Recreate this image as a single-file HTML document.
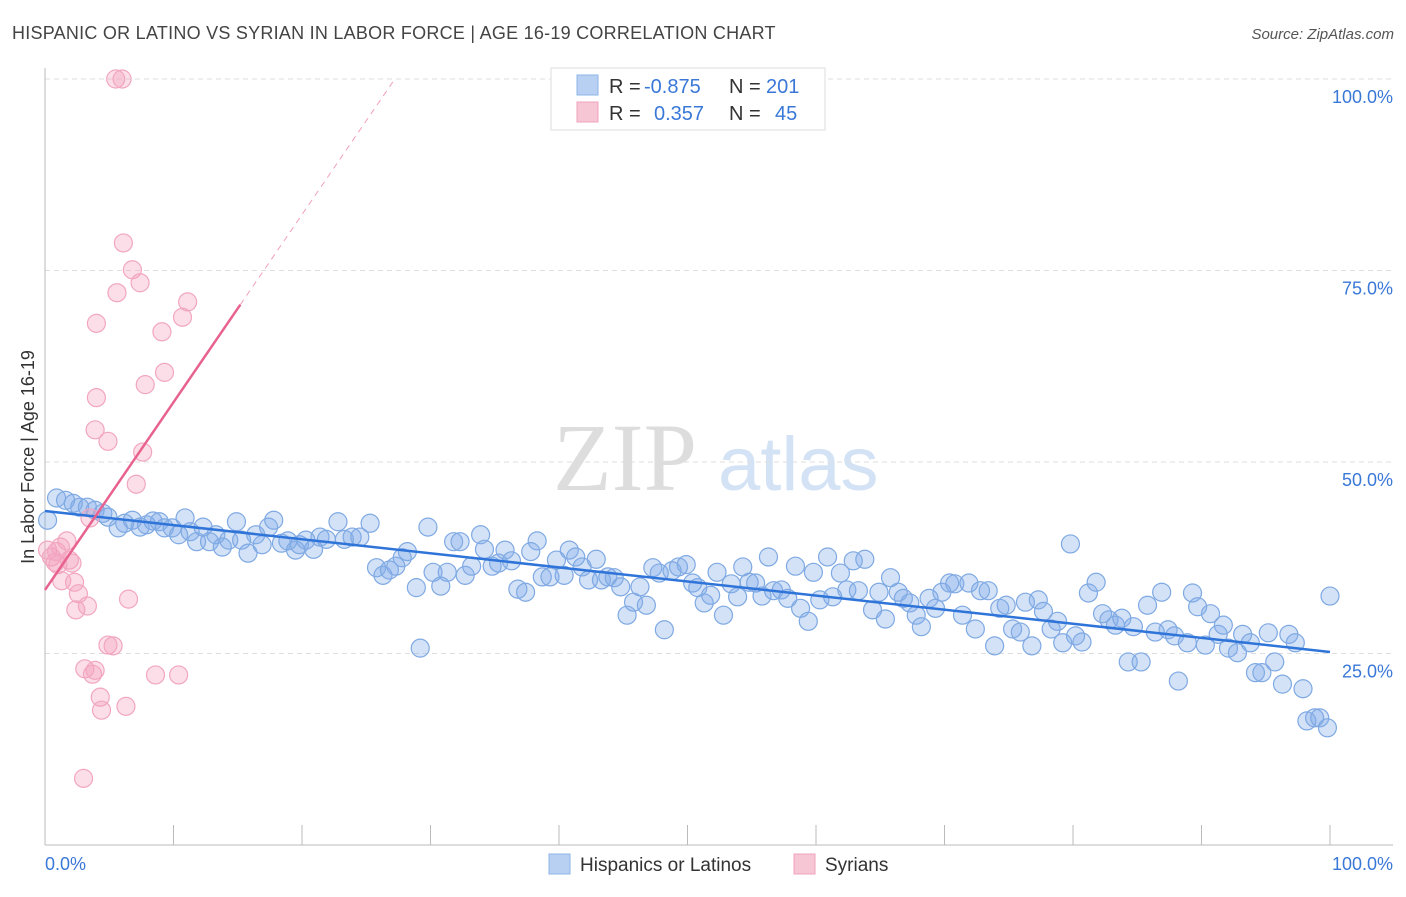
<!DOCTYPE html>
<html><head><meta charset="utf-8"><style>
body{margin:0;background:#fff;font-family:"Liberation Sans",sans-serif;}
svg text{font-family:"Liberation Sans",sans-serif;}
</style></head><body>
<svg id="chart" width="1406" height="892" xmlns="http://www.w3.org/2000/svg">
<text x="12" y="39" font-size="18" fill="#444" letter-spacing="0.25">HISPANIC OR LATINO VS SYRIAN IN LABOR FORCE | AGE 16-19 CORRELATION CHART</text>
<text x="1394" y="39" font-size="15" fill="#555" font-style="italic" text-anchor="end">Source: ZipAtlas.com</text>
<g>
<text x="553" y="490" font-size="96" fill="#ddd" style="font-family:'Liberation Serif',serif">ZIP</text>
<text x="718" y="490" font-size="76" fill="#d3e2f5">atlas</text>
</g>
<g id="grid"></g>
<g id="marks"></g>
<g>
<rect x="551" y="68" width="274" height="62" fill="#fff" stroke="#ddd"/>
<rect x="577" y="75" width="21" height="20" fill="#b8d1f3" stroke="#8fb4e8"/>
<rect x="577" y="102" width="21" height="20" fill="#f7c6d5" stroke="#f0a3bc"/>
<text x="609" y="93" font-size="20" fill="#333">R =</text>
<text x="644" y="93" font-size="20" fill="#3a78d8">-0.875</text>
<text x="729" y="93" font-size="20" fill="#333">N =</text>
<text x="766" y="93" font-size="20" fill="#3a78d8">201</text>
<text x="609" y="120" font-size="20" fill="#333">R =</text>
<text x="654" y="120" font-size="20" fill="#3a78d8">0.357</text>
<text x="729" y="120" font-size="20" fill="#333">N =</text>
<text x="775" y="120" font-size="20" fill="#3a78d8">45</text>
</g>
<g>
<rect x="549" y="854" width="21" height="20" fill="#b8d1f3" stroke="#8fb4e8"/>
<text x="580" y="871" font-size="19" fill="#333">Hispanics or Latinos</text>
<rect x="794" y="854" width="21" height="20" fill="#f7c6d5" stroke="#f0a3bc"/>
<text x="825" y="871" font-size="19" fill="#333">Syrians</text>
</g>
<text transform="translate(34,457) rotate(-90)" font-size="18" fill="#333" text-anchor="middle">In Labor Force | Age 16-19</text>
<text x="45" y="870" font-size="18" fill="#3a78d8">0.0%</text>
<text x="1393" y="870" font-size="18" fill="#3a78d8" text-anchor="end">100.0%</text>
</svg>
<script>
const blueX=[0.2,0.9,1.6,2.2,2.7,3.3,3.9,4.5,4.9,5.7,6.2,6.8,7.4,7.9,8.4,8.9,9.3,9.9,10.4,10.9,11.3,11.8,12.3,12.8,13.3,13.8,14.3,14.9,15.3,15.8,16.4,16.9,17.4,17.8,18.4,18.9,19.5,19.8,20.3,20.9,21.4,21.9,22.8,23.3,23.9,24.5,25.3,25.8,26.3,26.8,27.3,27.8,28.2,28.9,29.2,29.8,30.2,30.8,31.3,31.8,32.3,32.7,33.2,33.9,34.2,34.8,35.3,35.8,36.3,36.8,37.4,37.8,38.3,38.7,39.3,39.8,40.4,40.8,41.3,41.8,42.3,42.9,43.3,43.8,44.3,44.8,45.3,45.8,46.3,46.8,47.3,47.8,48.2,48.8,49.3,49.9,50.4,50.8,51.3,51.8,52.3,52.8,53.4,53.9,54.3,54.8,55.3,55.8,56.3,56.7,57.3,57.8,58.4,58.8,59.4,59.8,60.3,60.9,61.3,61.9,62.4,62.9,63.3,63.8,64.4,64.9,65.4,65.8,66.4,66.8,67.3,67.8,68.2,68.8,69.3,69.8,70.4,70.8,71.4,71.9,72.4,72.8,73.4,73.9,74.3,74.8,75.3,75.9,76.3,76.8,77.3,77.7,78.3,78.8,79.2,79.8,80.2,80.7,81.2,81.8,82.3,82.8,83.3,83.8,84.3,84.7,85.3,85.8,86.4,86.9,87.4,87.9,88.2,88.9,89.3,89.7,90.3,90.7,91.3,91.7,92.1,92.8,93.2,93.8,94.2,94.7,95.2,95.7,96.3,96.8,97.3,97.9,98.2,98.8,99.2,99.8,100];
const blueY=[42.4,45.3,45.0,44.6,44.1,44.1,43.7,43.3,42.8,41.4,42.0,42.4,41.5,41.8,42.3,42.2,41.4,41.4,40.5,42.7,40.9,39.6,41.5,39.6,40.5,38.9,39.8,42.2,39.8,38.1,40.5,39.2,41.5,42.4,39.4,39.7,38.5,39.2,39.8,38.6,40.2,39.9,42.2,39.9,40.2,40.2,42.0,36.2,35.2,35.9,36.4,37.5,38.3,33.6,25.7,41.5,35.6,33.8,35.6,39.6,39.6,35.2,36.4,40.5,38.6,36.4,36.8,38.5,37.1,33.4,33.0,38.3,39.7,35.0,35.0,37.2,35.2,38.5,37.6,36.3,34.6,37.3,34.6,35.0,34.9,33.7,30.0,31.7,33.7,31.3,36.2,35.5,28.1,35.8,36.3,36.6,34.2,33.6,31.6,32.6,35.6,30.0,34.1,32.4,36.3,34.3,34.2,32.5,37.6,33.2,33.3,32.2,36.4,30.9,29.2,35.6,32.0,37.6,32.4,35.5,33.3,37.1,33.2,37.3,30.7,33.0,29.5,34.9,33.0,32.2,31.6,30.0,28.5,32.2,30.9,33.0,34.2,34.1,30.0,34.2,28.2,33.2,33.2,26.0,30.9,31.3,28.2,27.8,31.7,26.0,32.0,30.5,28.2,29.2,26.4,39.3,27.3,26.5,32.9,34.3,30.2,29.4,28.7,29.6,23.9,28.5,23.9,31.3,27.8,33.0,28.1,27.3,21.4,26.4,32.9,31.1,26.1,30.2,27.5,28.7,25.7,25.1,27.5,26.4,22.5,22.5,27.7,23.9,21.0,27.5,26.4,20.4,16.2,16.6,16.6,15.3,32.5];
const pinkX=[0.2,0.5,0.8,0.9,1.0,1.3,1.7,1.9,2.1,2.3,2.4,2.6,3.0,3.1,3.3,3.7,3.9,4.0,4.3,4.4,4.9,4.9,5.3,5.5,6.0,6.1,6.3,6.5,6.8,7.1,7.4,7.6,7.8,8.6,9.1,9.3,10.4,10.7,11.1,3.9,4.0,3.5,5.6,1.2];
const pinkY=[38.5,37.6,36.9,38.3,36.6,34.5,39.7,37.2,36.8,34.3,30.7,32.8,8.7,23.0,31.2,22.3,22.8,68.1,19.3,17.6,52.7,26.1,26.0,100,100,78.6,18.1,32.1,75.1,47.1,73.4,51.3,60.1,22.2,67.0,61.7,22.2,68.9,70.9,54.2,58.4,42.7,72.1,38.9];
const blueTrend=[43.6,25.2];
const pinkTrend=[33.3,2.45];
const yTicks=[25,50,75,100];
const xTickVals=[0,10,20,30,40,50,60,70,80,90,100];
const NS='http://www.w3.org/2000/svg';
const sx=v=>45+v*12.85, sy=v=>845-v*7.66;
const grid=document.getElementById('grid'), marks=document.getElementById('marks');
function mk(tag,attrs,parent){const e=document.createElementNS(NS,tag);for(const k in attrs)e.setAttribute(k,attrs[k]);parent.appendChild(e);return e;}
yTicks.forEach(t=>{
 const l=mk('line',{x1:45,x2:1393,y1:sy(t),y2:sy(t),stroke:'#ddd','stroke-dasharray':'5,4'},grid);
 
 
 const tx=mk('text',{x:1393,y:sy(t)+24,'font-size':18,fill:'#3a78d8','text-anchor':'end'},grid);
 tx.textContent=t.toFixed(1)+'%';
 
 
});
const ax=mk('line',{x1:45,x2:45,y1:68,y2:845,stroke:'#bbb'},grid);


const bx=mk('line',{x1:45,x2:1393,y1:845,y2:845,stroke:'#bbb'},grid);


xTickVals.forEach(t=>{
 const l=mk('line',{x1:sx(t),x2:sx(t),y1:825,y2:845,stroke:'#bbb'},grid);
 
 
});
blueX.forEach((x,i)=>{
 const c=mk('circle',{cx:sx(x),cy:sy(blueY[i]),r:9,fill:'rgba(130,172,232,0.35)',stroke:'#7fa9e3','stroke-width':1.2},marks);
 
 
});
pinkX.forEach((x,i)=>{
 const c=mk('circle',{cx:sx(x),cy:sy(pinkY[i]),r:9,fill:'rgba(244,160,190,0.35)',stroke:'#f2a6c0','stroke-width':1.2},marks);
 
 
});
const bt=mk('line',{x1:sx(0),y1:sy(blueTrend[0]),x2:sx(100),y2:sy(blueTrend[1]),stroke:'#2f74d8','stroke-width':2.5},marks);


const pEnd=15.2, pFull=(100-pinkTrend[0])/pinkTrend[1];
const pt=mk('line',{x1:sx(0),y1:sy(pinkTrend[0]),x2:sx(pEnd),y2:sy(pinkTrend[0]+pinkTrend[1]*pEnd),stroke:'#e8628e','stroke-width':2.5},marks);


const pd=mk('line',{x1:sx(pEnd),y1:sy(pinkTrend[0]+pinkTrend[1]*pEnd),x2:sx(pFull),y2:sy(100),stroke:'#f0a0bc','stroke-width':1,'stroke-dasharray':'6,5'},marks);


</script>
</body></html>
